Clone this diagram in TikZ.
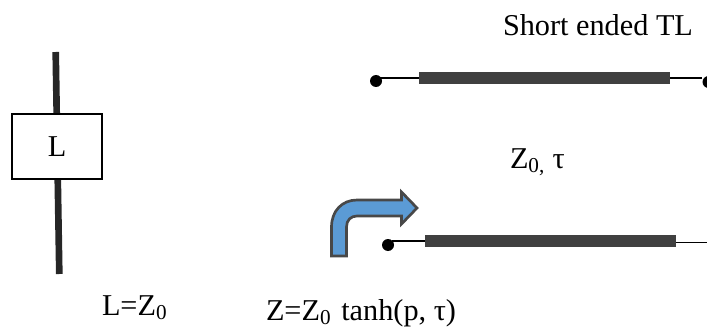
\documentclass[tikz,border=0pt]{standalone}
\usepackage{fontspec}
\setmainfont{Liberation Serif}
\definecolor{barc}{HTML}{404040}
\definecolor{arrowfill}{HTML}{5B9BD5}
\definecolor{arrowline}{HTML}{484848}
\tikzset{
  lbl/.style={inner sep=0pt,outer sep=0pt,font=\fontsize{22.7pt}{26pt}\selectfont,text=black,anchor=base west},
  dotn/.style={circle,fill=black,inner sep=0pt,minimum size=9pt},
  thin line/.style={draw=black,line width=0.8pt},
  barline/.style={draw=barc,line width=9pt},
  stub/.style={draw=black!85,line width=5pt},
  boxn/.style={draw=black,line width=0.8pt,fill=white,minimum width=67.5pt,minimum height=48.75pt,inner sep=0pt,font=\fontsize{22.7pt}{26pt}\selectfont},
  px/.style={x=0.75pt,y=-0.75pt}
}
\begin{document}
\begin{tikzpicture}[px]
\useasboundingbox (0,0) rectangle (707,328);
% left element
\coordinate (lt) at (55.7,52);
\coordinate (lb) at (59.3,274);
\draw[stub] (lt) -- (lb);
\node[boxn] (lbox) at (57,146.5) {L};
% top line
\node[dotn] (d1) at (376,81) {};
\node[dotn] (d2) at (708.5,82) {};
\coordinate (b1l) at (419,78);
\coordinate (b1r) at (670,78);
\draw[thin line] (d1.north east |- b1l) -- (b1l);
\draw[thin line] (b1r) -- (d2.west |- b1r);
\draw[barline] (b1l) -- (b1r);
% bottom line
\node[dotn] (d3) at (388,245) {};
\coordinate (b2l) at (425,241);
\coordinate (b2r) at (676,241);
\coordinate (e2s) at (676,242.5);
\coordinate (e2) at (707,242.5);
\draw[thin line] (d3.north east |- b2l) -- (b2l);
\draw[thin line] (e2s) -- (e2);
\draw[barline] (b2l) -- (b2r);
% bent arrow
\draw[draw=arrowline,line width=2pt,fill=arrowfill,miter limit=10]
  (331.5,256) -- (331.5,227)
  .. controls (331.5,211) and (342,200) .. (357,200)
  -- (401.5,200) -- (401.5,192) -- (417,208) -- (401.5,224) -- (401.5,216)
  -- (357,216) .. controls (351,216) and (346.5,220) .. (346.5,227)
  -- (346.5,256) -- cycle;
% labels
\node[lbl] (t1) at (503,36) {Short ended TL};
\node[lbl] (t2) at (510,168) {Z\textsubscript{0,} τ};
\node[lbl] (t3) at (102,315) {L=Z\textsubscript{0}};
\node[lbl] (t4) at (266,320) {Z=Z\textsubscript{0}\hspace{7.5pt}tanh(p, τ)};
\end{tikzpicture}
\end{document}
